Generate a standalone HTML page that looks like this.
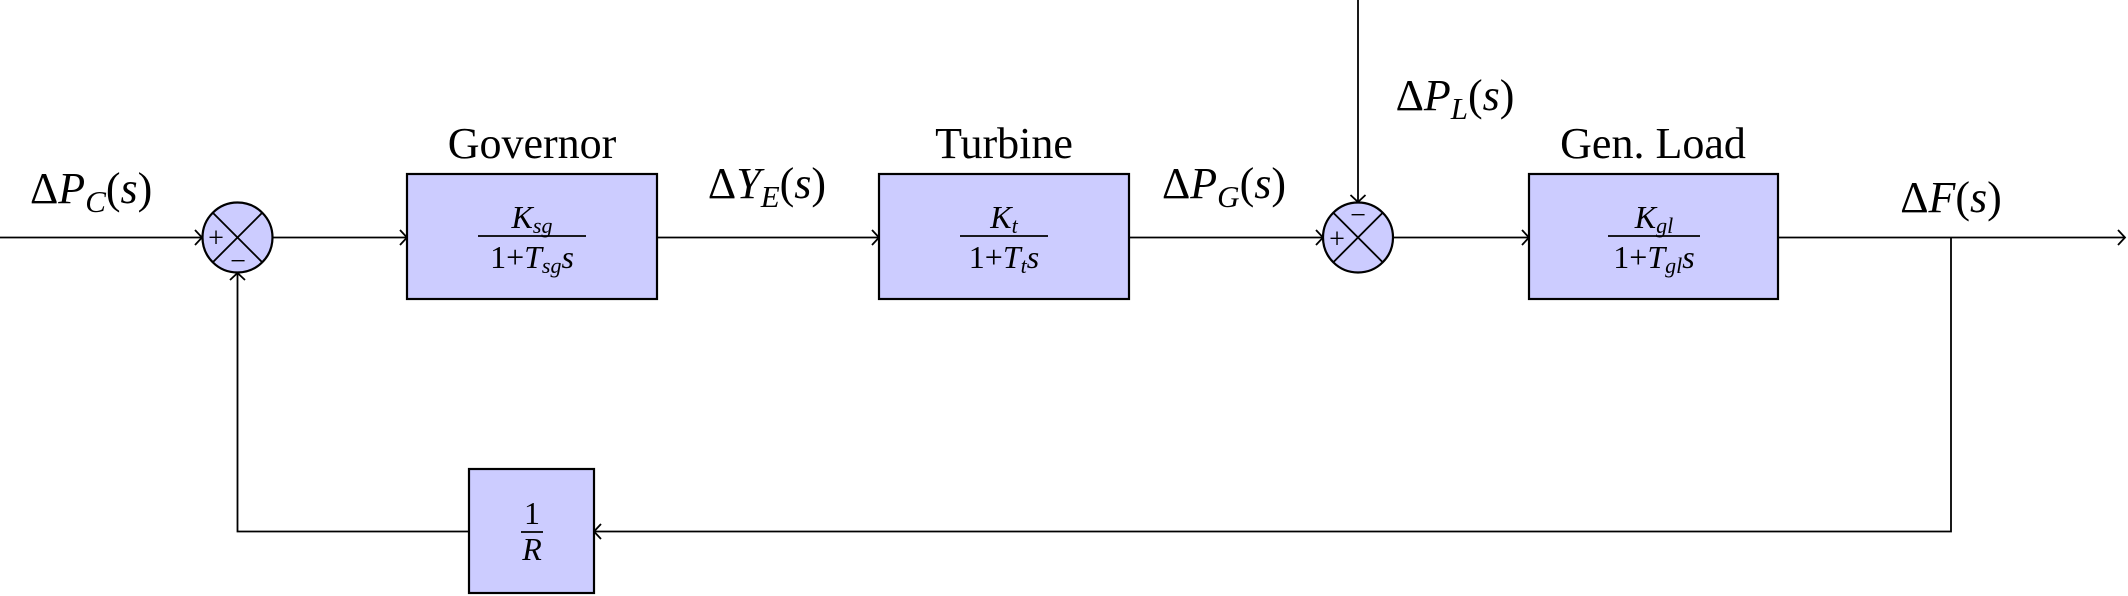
<!DOCTYPE html>
<html><head><meta charset="utf-8"><style>
html,body{margin:0;padding:0;background:#fff;}
svg{display:block;}
text{font-family:"Liberation Serif",serif;fill:#000;}
.i{font-style:italic;}
</style></head><body>
<svg width="2128" height="596" viewBox="0 0 2128 596" xmlns="http://www.w3.org/2000/svg">
<g stroke="#000" stroke-width="1.8" fill="none">
<line x1="0" y1="237.5" x2="202" y2="237.5"/>
<line x1="273" y1="237.5" x2="407" y2="237.5"/>
<line x1="657" y1="237.5" x2="879" y2="237.5"/>
<line x1="1129" y1="237.5" x2="1323" y2="237.5"/>
<line x1="1393" y1="237.5" x2="1529" y2="237.5"/>
<line x1="1778" y1="237.5" x2="2125" y2="237.5"/>
<line x1="1358" y1="0" x2="1358" y2="202"/>
<polyline points="1951,237.5 1951,531.5 594,531.5"/>
<polyline points="469,531.5 237.5,531.5 237.5,273"/>
<polyline points="195,230 202,237.5 195,245"/>
<polyline points="400,230 407,237.5 400,245"/>
<polyline points="872,230 879,237.5 872,245"/>
<polyline points="1316,230 1323,237.5 1316,245"/>
<polyline points="1522,230 1529,237.5 1522,245"/>
<polyline points="2118,230 2125,237.5 2118,245"/>
<polyline points="1350.5,195 1358,202 1365.5,195"/>
<polyline points="230,280 237.5,273 245,280"/>
<polyline points="601,524 594,531.5 601,539"/>
</g>
<g stroke="#000" stroke-width="2.2" fill="#ccccff">
<rect x="407" y="174" width="250" height="125"/>
<rect x="879" y="174" width="250" height="125"/>
<rect x="1529" y="174" width="249" height="125"/>
<rect x="469" y="469" width="125" height="124"/>
<circle cx="237.5" cy="237.5" r="35"/>
<circle cx="1358" cy="237.5" r="35"/>
</g>
<g stroke="#000" stroke-width="1.8">
<line x1="212.8" y1="212.8" x2="262.2" y2="262.2"/>
<line x1="262.2" y1="212.8" x2="212.8" y2="262.2"/>
<line x1="1333.3" y1="212.8" x2="1382.7" y2="262.2"/>
<line x1="1382.7" y1="212.8" x2="1333.3" y2="262.2"/>
<line x1="478" y1="236" x2="586" y2="236"/>
<line x1="960" y1="236" x2="1048" y2="236"/>
<line x1="1608" y1="236" x2="1700" y2="236"/>
<line x1="521" y1="532" x2="543" y2="532"/>
</g>
<g font-size="28" text-anchor="middle">
<text x="216" y="247">+</text>
<text x="238" y="270">−</text>
<text x="1358" y="224">−</text>
<text x="1337" y="248">+</text>
</g>
<g font-size="44">
<text x="30" y="203">Δ<tspan class="i">P</tspan><tspan class="i" font-size="31" dy="9">C</tspan><tspan dy="-9">(</tspan><tspan class="i">s</tspan>)</text>
<text x="532" y="158" text-anchor="middle">Governor</text>
<text x="767" y="198" text-anchor="middle">Δ<tspan class="i">Y</tspan><tspan class="i" font-size="31" dy="9">E</tspan><tspan dy="-9">(</tspan><tspan class="i">s</tspan>)</text>
<text x="1004" y="158" text-anchor="middle">Turbine</text>
<text x="1224" y="198" text-anchor="middle">Δ<tspan class="i">P</tspan><tspan class="i" font-size="31" dy="9">G</tspan><tspan dy="-9">(</tspan><tspan class="i">s</tspan>)</text>
<text x="1455" y="110" text-anchor="middle">Δ<tspan class="i">P</tspan><tspan class="i" font-size="31" dy="9">L</tspan><tspan dy="-9">(</tspan><tspan class="i">s</tspan>)</text>
<text x="1653" y="158" text-anchor="middle">Gen. Load</text>
<text x="1951" y="212" text-anchor="middle">Δ<tspan class="i">F</tspan>(<tspan class="i">s</tspan>)</text>
</g>
<g font-size="32" text-anchor="middle">
<text x="532" y="228"><tspan class="i">K</tspan><tspan class="i" font-size="22" dy="5">sg</tspan></text>
<text x="532" y="268">1+<tspan class="i">T</tspan><tspan class="i" font-size="22" dy="5">sg</tspan><tspan class="i" dy="-5">s</tspan></text>
<text x="1004" y="228"><tspan class="i">K</tspan><tspan class="i" font-size="22" dy="5">t</tspan></text>
<text x="1004" y="268">1+<tspan class="i">T</tspan><tspan class="i" font-size="22" dy="5">t</tspan><tspan class="i" dy="-5">s</tspan></text>
<text x="1654" y="228"><tspan class="i">K</tspan><tspan class="i" font-size="22" dy="5">gl</tspan></text>
<text x="1654" y="268">1+<tspan class="i">T</tspan><tspan class="i" font-size="22" dy="5">gl</tspan><tspan class="i" dy="-5">s</tspan></text>
<text x="532" y="524">1</text>
<text x="532" y="560" class="i">R</text>
</g>
</svg>
</body></html>
